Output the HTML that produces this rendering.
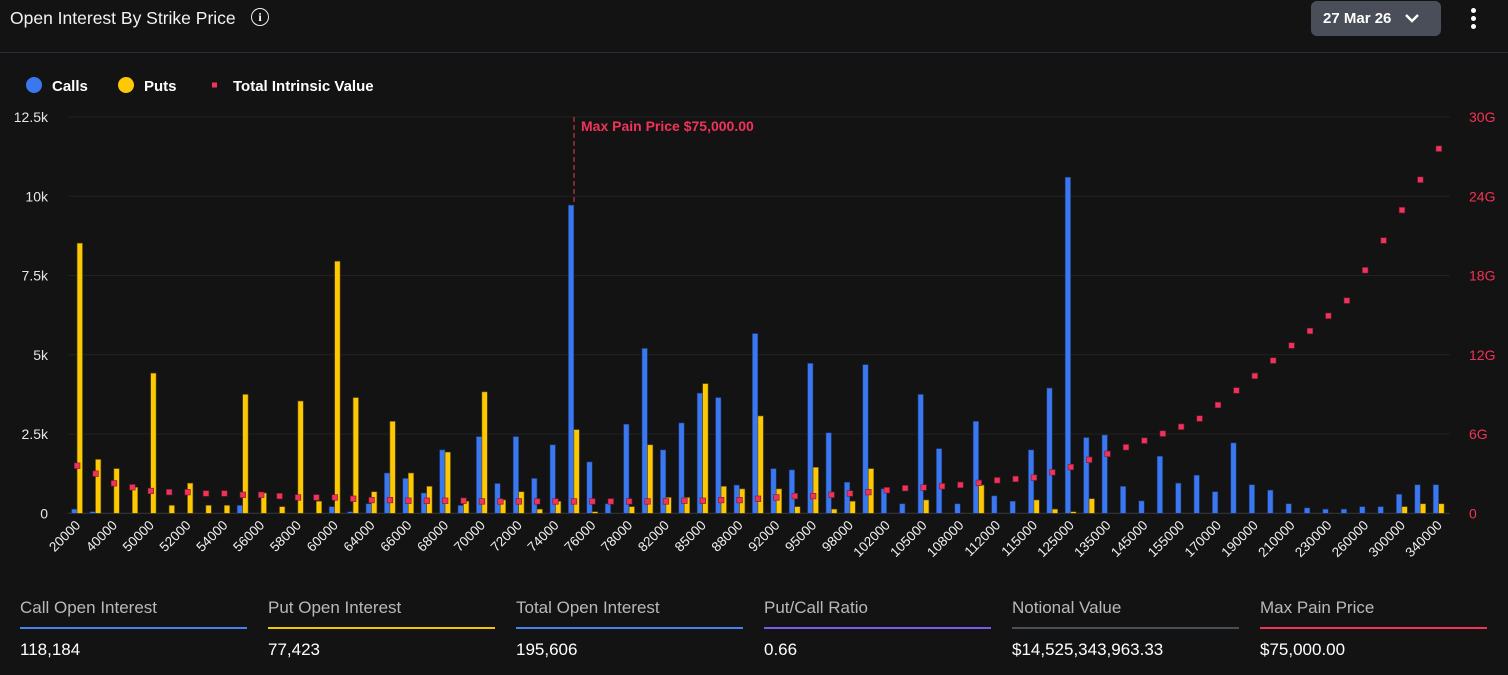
<!DOCTYPE html>
<html><head><meta charset="utf-8"><style>
body{margin:0;background:#131313;width:1508px;height:675px;overflow:hidden;font-family:"Liberation Sans",sans-serif;color:#fff;position:relative}
.title{position:absolute;left:10px;top:8px;font-size:17.5px;color:#f2f2f2}
.info{position:absolute;left:251px;top:8px;width:16px;height:16px;border:1.6px solid #eee;border-radius:50%;font-size:12px;font-weight:bold;text-align:center;line-height:16px;font-family:"Liberation Serif",serif}
.date{position:absolute;left:1311px;top:1px;width:130px;height:35px;background:#4a4e58;border-radius:6px;font-weight:bold;font-size:15px;line-height:35px;padding-left:12px;box-sizing:border-box}
.kebab{position:absolute;left:1471px;top:8px;width:6px}
.kebab i{display:block;width:5px;height:5px;border-radius:50%;background:#fff;margin-bottom:3px}
.sep{position:absolute;left:0;top:52px;width:1508px;height:1px;background:#2c2c34}
.stat{position:absolute;top:598px;width:227px}
.stat .h{font-size:17px;color:#b9b9b9;height:22px}
.stat .u{height:2px;margin-top:7px}
.stat .v{font-size:17px;color:#fff;margin-top:11px}
</style></head><body>
<div class="title">Open Interest By Strike Price</div>
<div class="info">i</div>
<div class="date">27 Mar 26 <svg width="16" height="10" style="margin-left:8px" viewBox="0 0 16 10"><path d="M2 2 L8 8 L14 2" stroke="#fff" stroke-width="2.4" fill="none"/></svg></div>
<div class="kebab"><i></i><i></i><i></i></div>
<div class="sep"></div>
<svg id="chart" width="1508" height="580" style="position:absolute;left:0;top:0"></svg>
<div class="stat" style="left:20px"><div class="h">Call Open Interest</div><div class="u" style="background:#4a7fef"></div><div class="v">118,184</div></div>
<div class="stat" style="left:268px"><div class="h">Put Open Interest</div><div class="u" style="background:#f5c400"></div><div class="v">77,423</div></div>
<div class="stat" style="left:516px"><div class="h">Total Open Interest</div><div class="u" style="background:#4a7fef"></div><div class="v">195,606</div></div>
<div class="stat" style="left:764px"><div class="h">Put/Call Ratio</div><div class="u" style="background:#7a5af0"></div><div class="v">0.66</div></div>
<div class="stat" style="left:1012px"><div class="h">Notional Value</div><div class="u" style="background:#4b4e57"></div><div class="v">$14,525,343,963.33</div></div>
<div class="stat" style="left:1260px"><div class="h">Max Pain Price</div><div class="u" style="background:#f0335a"></div><div class="v">$75,000.00</div></div>
<script>
const strikes=[20000,30000,40000,45000,50000,51000,52000,53000,54000,55000,56000,57000,58000,59000,60000,62000,64000,65000,66000,67000,68000,69000,70000,71000,72000,73000,74000,75000,76000,77000,78000,80000,82000,84000,85000,86000,88000,90000,92000,94000,95000,96000,98000,100000,102000,104000,105000,106000,108000,110000,112000,114000,115000,120000,125000,130000,135000,140000,145000,150000,155000,160000,170000,180000,190000,200000,210000,220000,230000,240000,260000,280000,300000,320000,340000];
const calls=[0.13,0.05,0,0,0,0,0,0,0,0.25,0,0,0,0,0.21,0.05,0.3,1.27,1.1,0.64,2.0,0.25,2.42,0.94,2.42,1.1,2.16,9.72,1.62,0.3,2.81,5.2,2.0,2.85,3.79,3.65,0.89,5.67,1.41,1.37,4.73,2.54,0.98,4.69,0.77,0.3,3.75,2.04,0.3,2.9,0.55,0.38,2.0,3.95,10.6,2.39,2.47,0.85,0.39,1.8,0.95,1.2,0.68,2.22,0.9,0.73,0.3,0.17,0.13,0.13,0.21,0.21,0.6,0.9,0.9];
const puts=[8.52,1.7,1.41,0.82,4.42,0.25,0.95,0.25,0.25,3.75,0.64,0.21,3.54,0.38,7.95,3.65,0.68,2.9,1.27,0.85,1.93,0.38,3.83,0.42,0.68,0.13,0.38,2.64,0.05,0,0.21,2.16,0.5,0.5,4.09,0.85,0.77,3.07,0.77,0.21,1.45,0.13,0.38,1.41,0,0,0.42,0,0,0.89,0,0,0.42,0.13,0.05,0.46,0,0,0,0,0,0,0,0,0,0,0,0,0,0,0,0,0.21,0.3,0.3];
const intrinsic=[3.6,3.0,2.27,1.97,1.69,1.6,1.6,1.5,1.5,1.4,1.4,1.3,1.2,1.2,1.2,1.1,1.0,1.0,0.95,0.95,0.95,0.95,0.9,0.9,0.9,0.9,0.9,0.9,0.9,0.9,0.9,0.9,0.9,0.95,0.95,1.0,1.0,1.1,1.2,1.3,1.3,1.4,1.5,1.6,1.75,1.9,1.95,2.05,2.15,2.3,2.5,2.6,2.7,3.1,3.5,4.05,4.5,5.0,5.5,6.03,6.55,7.17,8.2,9.3,10.4,11.56,12.7,13.8,14.95,16.1,18.4,20.65,22.95,25.25,27.6];
const leftTicks=[0,2.5,5,7.5,10,12.5];
const leftTickLabels=["0","2.5k","5k","7.5k","10k","12.5k"];
const rightTicks=[0,6,12,18,24,30];
const maxPainStrike=75000;
const NS="http://www.w3.org/2000/svg";
const svg=document.getElementById('chart');
const X0=68,STEP=18.4,Y0=513.3,YT=117;
const xC=i=>X0+(i+0.5)*STEP;
const yL=v=>Y0-(v/12.5)*(Y0-YT);
const yR=v=>Y0-(v/30)*(Y0-YT);
function mk(t,a){const e=document.createElementNS(NS,t);for(const k in a)e.setAttribute(k,a[k]);svg.appendChild(e);return e;}
function tx(x,y,s,a){const e=mk('text',a);e.setAttribute('x',x);e.setAttribute('y',y);e.textContent=s;return e;}
let g=mk('circle',{cx:34,cy:85,r:8,fill:'#3b78f0'});


g=tx(52,91,'Calls',{fill:'#fff','font-size':15,'font-weight':'bold'});


g=mk('circle',{cx:126,cy:85,r:8,fill:'#ffc800'});


g=tx(144,91,'Puts',{fill:'#fff','font-size':15,'font-weight':'bold'});


g=mk('rect',{x:212,y:82.5,width:5,height:5,fill:'#f0335a'});


g=tx(233,91,'Total Intrinsic Value',{fill:'#fff','font-size':15,'font-weight':'bold'});


leftTicks.forEach((v,i)=>{
 const y=yL(v);
 g=mk('line',{x1:68,x2:1450,y1:y,y2:y,stroke:i==0?'#3a3a3a':'#222',"stroke-width":1});
 
 
 g=tx(48,y+5,leftTickLabels[i],{fill:'#e6e6e6','font-size':14,'text-anchor':'end'});
 
 
});
rightTicks.forEach(v=>{
 g=tx(1469,yR(v)+5,v==0?'0':v+'G',{fill:'#f0335a','font-size':14});
 
 
});
strikes.forEach((s,i)=>{
 const c=xC(i);
 if(calls[i]>0){g=mk('rect',{x:c-5.6,y:yL(calls[i]),width:5.4,height:Y0-yL(calls[i]),fill:'#3b78f0',stroke:'#1d3a7a','stroke-width':0.6});
 
 }
 if(puts[i]>0){g=mk('rect',{x:c-0.1,y:yL(puts[i]),width:5.4,height:Y0-yL(puts[i]),fill:'#ffc800',stroke:'#6a5400','stroke-width':0.6});
 
 }
 if(i%2==0){g=tx(0,0,String(s),{fill:'#f0f0f0','font-size':13.5,'text-anchor':'end',transform:`translate(${c+4},${526}) rotate(-45)`});
 
 }
});
const mp=strikes.indexOf(maxPainStrike);
g=mk('line',{x1:xC(mp),x2:xC(mp),y1:117,y2:yL(calls[mp]),stroke:'#f0335a','stroke-width':1,'stroke-dasharray':'5,3'});


g=tx(xC(mp)+7,131,'Max Pain Price $75,000.00',{fill:'#f0335a','font-size':14,'font-weight':'bold'});


intrinsic.forEach((v,i)=>{
 g=mk('rect',{x:xC(i)-2.8,y:yR(v)-2.8,width:5.6,height:5.6,fill:'#f0335a',stroke:'#7a1a30','stroke-width':0.6});
 
 
});
</script>
</body></html>
